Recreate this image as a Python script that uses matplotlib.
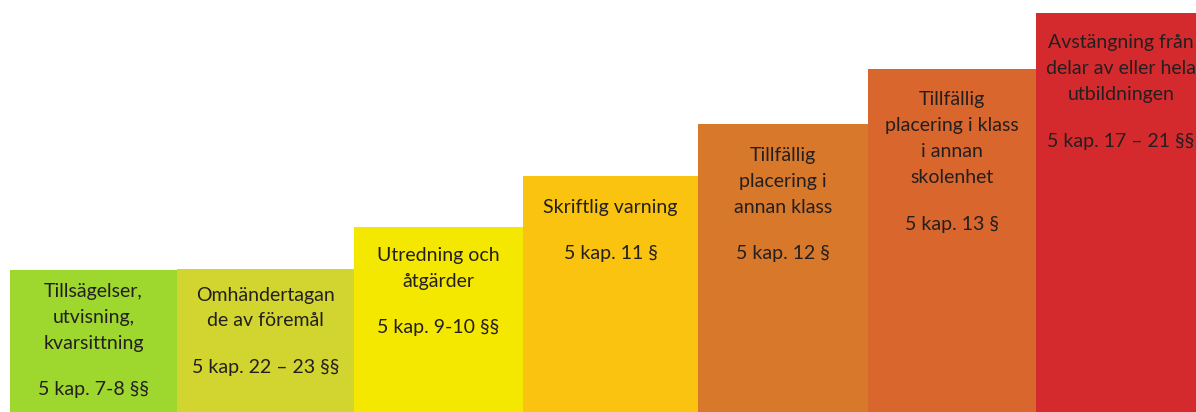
import matplotlib
matplotlib.use("Agg")
import matplotlib.pyplot as plt

# steps of the ladder, left to right
titles = [
    ["Tillsägelser,", "utvisning,", "kvarsittning"],
    ["Omhändertagan", "de av föremål"],
    ["Utredning och", "åtgärder"],
    ["Skriftlig varning"],
    ["Tillfällig", "placering i", "annan klass"],
    ["Tillfällig", "placering i klass", "i annan", "skolenhet"],
    ["Avstängning från", "delar av eller hela", "utbildningen"],
]
paragraphs = [
    "5 kap. 7-8 §§",
    "5 kap. 22 – 23 §§",
    "5 kap. 9-10 §§",
    "5 kap. 11 §",
    "5 kap. 12 §",
    "5 kap. 13 §",
    "5 kap. 17 – 21 §§",
]
step_left = [10, 177, 354, 523, 698, 868, 1036]
step_width = [167, 177, 169, 175, 170, 168, 170]
step_height = [142, 143, 185, 236, 288, 343, 399]
colors = ["#9ed82f", "#d2d52f", "#f5e800", "#f9c30f", "#d8782b", "#d8662d", "#d52a2d"]

W, H = 1196, 412
fig = plt.figure(figsize=(W / 100, H / 100), dpi=100)
ax = fig.add_axes([0, 0, 1, 1])
ax.set_xlim(0, W)
ax.set_ylim(0, H)
ax.axis("off")

ax.bar(step_left, step_height, width=step_width, align="edge", color=colors, linewidth=0)

# text layout (pixels)
top_pad = [21, 26, 28, 31, 31, 30, 29]
line_step = 26
kap_gap = 47
font = dict(family="Lato", fontsize=14, color="#231f20", ha="center", va="center")

for i in range(len(titles)):
    cx = step_left[i] + step_width[i] / 2
    y = step_height[i] - top_pad[i]
    for line in titles[i]:
        ax.text(cx, y, line, **font)
        y -= line_step
    y += line_step - kap_gap
    ax.text(cx, y, paragraphs[i], **font)

fig.savefig("out.png", dpi=100)
